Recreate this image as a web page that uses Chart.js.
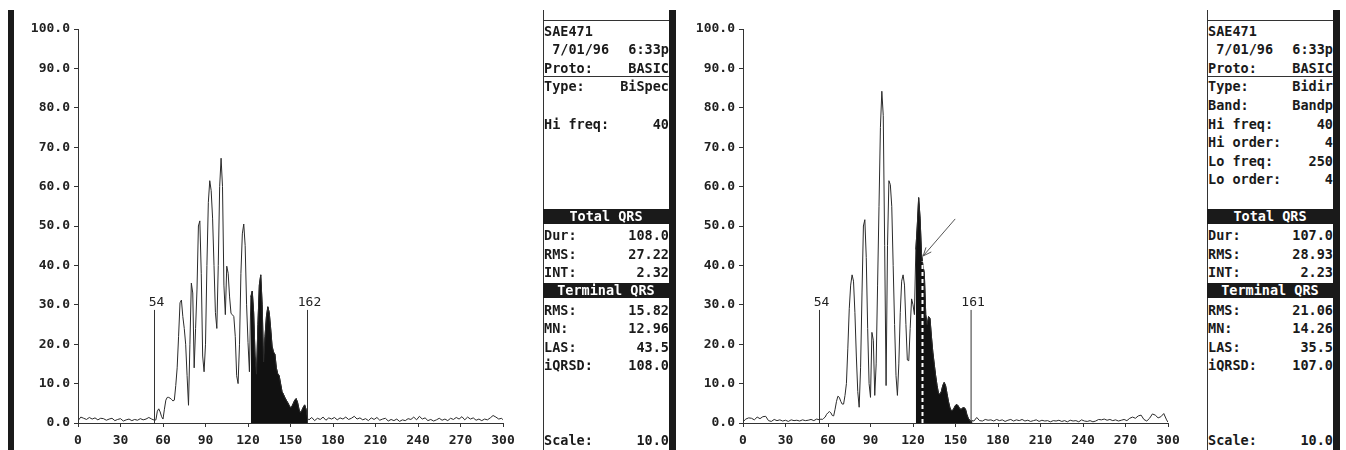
<!DOCTYPE html>
<html>
<head>
<meta charset="utf-8">
<script src="https://cdn.jsdelivr.net/npm/chart.js@4/dist/chart.umd.min.js"></script>
<style>
  html, body { margin: 0; padding: 0; background: #fff; }
  #wrap { position: relative; width: 1346px; height: 450px; overflow: hidden; background: #fff; }
  canvas { position: absolute; top: 0; }
  .bar { position: absolute; background: #1a1a1a; }
  .vline { position: absolute; width: 1px; background: #333; }
  .hline { position: absolute; height: 1px; background: #333; }
  .row { position: absolute; height: 18px; line-height: 18px; display: flex; justify-content: space-between;
         font-family: "DejaVu Sans Mono", monospace; font-weight: bold; font-size: 13.5px; color: #1a1a1a; white-space: pre; }
  .hdr { position: absolute; height: 15px; line-height: 15px; background: #1a1a1a; color: #fff; text-align: center;
         font-family: "DejaVu Sans Mono", monospace; font-weight: bold; font-size: 13.5px; white-space: pre; }
</style>
</head>
<body>
<div id="wrap">
  <canvas id="leftChart" width="540" height="450" style="left:0px"></canvas>
  <canvas id="rightChart" width="540" height="450" style="left:665px"></canvas>
</div>
<script>
// Left recording (BiSpec filter) - time in ms, amplitude in uV
const leftTime = [0,2,4,6,8,10,12,14,16,18,20,22,24,26,28,30,32,34,36,38,40,42,44,46,48,50,52,54,
  55,56,57,58,59,60,61,62,63,64,65,66,67,68,69,70,71,72,73,74,75,76,77,78,79,80,81,82,83,84,85,86,87,88,89,90,
  91,92,93,94,95,96,97,98,99,100,101,102,103,104,105,106,107,108,109,110,111,112,113,114,115,116,117,118,119,120,121,
  122,123,124,125,126,127,128,129,130,131,132,133,134,135,136,137,138,139,140,141,142,143,144,145,146,147,148,149,150,
  151,152,153,154,155,156,157,158,159,160,161,162,
  163,165,167,169,171,173,175,177,179,181,183,185,187,189,191,193,195,197,199,201,203,205,207,209,211,213,215,217,219,
  221,223,225,227,229,231,233,235,237,239,241,243,245,247,249,251,253,255,257,259,261,263,265,267,269,271,273,275,277,
  279,281,283,285,287,289,291,293,295,297,299,300];
const leftValue = [0.6,1.5,1.2,0.9,1.4,1.0,1.3,0.8,1.2,1.1,0.7,1.0,1.2,0.6,0.9,1.1,0.5,0.8,1.0,0.6,0.9,0.7,1.1,0.8,1.0,1.4,1.0,0.7,
  0.8,3.0,3.6,2.8,1.6,1.0,3.5,5.8,6.5,6.5,6.3,6.0,5.6,5.8,9.5,14,22,30.5,31.2,27,24,20,12,4.5,20,35.5,33,14,24,34,50,51.3,38,17,13,20,
  40,56,61.5,59,52,40,28,24,40,60,67.2,60,35,27.5,39.8,38,32,27.8,27.5,27,22,12,10,20,38,48,50.5,45,30,20.5,13,
  32,33.5,28,17,12.4,25,35,37.6,30,15.5,22,27,29.5,28,24,19.5,18,17.5,14,12.5,12,10,8,7.3,6.5,5.8,5.2,4.5,3.9,
  4.2,5.0,5.8,6.2,5.2,3.5,2.6,3.2,4.0,4.6,3.5,1.2,
  0.8,1.4,0.6,1.2,0.9,1.5,0.7,1.3,1.0,1.4,0.8,1.3,1.0,1.5,0.9,1.2,1.7,1.0,1.3,0.8,1.1,0.6,1.3,0.9,1.4,0.7,1.0,1.2,0.5,
  0.9,0.6,1.0,0.4,0.8,0.6,1.1,0.9,1.5,0.8,1.7,1.0,1.3,0.6,0.9,0.5,0.8,1.2,0.7,1.0,0.6,1.2,0.9,1.4,1.0,1.6,0.8,1.5,1.0,
  1.3,0.7,1.0,0.6,1.0,0.8,1.3,1.9,1.5,1.0,1.2,0.8];
const leftTerminal = [122, 162];   // shaded terminal QRS, ms
const leftMarkers = [54, 162];     // QRS onset / offset

// Right recording (Bidir bandpass filter)
const rightTime = [0,2,4,6,8,10,12,14,16,18,20,22,24,26,28,30,32,34,36,38,40,42,44,46,48,50,52,54,
  55,56,57,58,59,60,61,62,63,64,65,66,67,68,69,70,71,72,73,74,75,76,77,78,79,80,81,82,83,84,85,86,87,88,89,90,
  91,92,93,94,95,96,97,98,99,100,101,102,103,104,105,106,107,108,109,110,111,112,113,114,115,116,117,118,119,120,121,
  122,123,124,125,126,127,128,129,130,131,132,133,134,135,136,137,138,139,140,141,142,143,144,145,146,147,148,149,150,
  151,152,153,154,155,156,157,158,159,160,161,162,
  163,165,167,169,171,173,175,177,179,181,183,185,187,189,191,193,195,197,199,201,203,205,207,209,211,213,215,217,219,
  221,223,225,227,229,231,233,235,237,239,241,243,245,247,249,251,253,255,257,259,261,263,265,267,269,271,273,275,277,
  279,281,283,285,287,289,291,293,295,297,299,300];
const rightValue = [0.3,1.0,1.3,1.2,0.8,1.5,1.1,1.6,1.7,0.6,0.4,0.9,0.6,0.8,0.5,0.7,0.4,0.8,0.6,0.7,0.5,0.8,0.6,0.7,0.9,0.6,1.0,0.8,
  1.0,0.9,1.2,1.5,2.2,2.6,2.9,2.6,1.9,1.8,3.5,5.5,6.8,6.5,5.5,4.8,4.8,7,10,19,29,35,37.6,36,28,17,8,4,14,33,50,51.6,42,24,10,6.5,
  23,21,7,15,35,55,75,84.2,78,45,9.5,45,61.5,60.5,55,40,25,12,7,15,28,36,37.6,35,25,16,15.8,24,31.5,30,27.5,
  44,50,57.2,52,43,40,38,27.5,25,27,26.5,22,18,14.9,12,9.5,7.5,7.3,8,9.5,10.3,9.5,7.5,5.5,4,3.1,3.2,3.8,4.5,
  4.7,4.3,3.6,3.5,3.8,3.9,3.6,2.2,1.2,0.7,0.4,0.6,
  0.5,1.4,0.6,0.5,0.9,0.7,0.8,0.5,0.9,0.6,0.8,0.4,0.7,0.9,0.5,0.8,0.6,0.9,0.5,0.7,0.4,0.6,0.8,0.4,0.7,0.5,0.6,0.3,0.6,
  0.5,0.7,0.4,0.6,0.3,0.7,0.5,0.6,0.3,0.8,0.5,0.4,0.6,0.3,0.5,0.9,0.8,1.0,0.7,0.9,0.6,0.8,0.5,0.7,0.9,0.6,1.2,1.5,1.2,
  1.8,2.0,0.9,0.5,1.2,2.3,2.0,1.3,1.6,2.4,0.8,0.2];
const rightTerminal = [122, 162];
const rightMarkers = [54, 161];
const rightCursor = { x: 126.7, top: 41 };                // white dashed cursor line
const rightArrow = { from: [149.8, 51.8], to: [127.2, 42.4] };

const markerHeight = 28.7;
const xTicks = [0, 30, 60, 90, 120, 150, 180, 210, 240, 270, 300];

// Info panels
const leftInfo = [
  [0, 'SAE471', ''], [1, ' 7/01/96', '6:33p'], [2, 'Proto:', 'BASIC'],
  [3, 'Type:', 'BiSpec'], [5, 'Hi freq:', '40'],
  [10, 'Total QRS'], [11, 'Dur:', '108.0'], [12, 'RMS:', '27.22'], [13, 'INT:', '2.32'],
  [14, 'Terminal QRS'], [15, 'RMS:', '15.82'], [16, 'MN:', '12.96'], [17, 'LAS:', '43.5'], [18, 'iQRSD:', '108.0'],
  [22, 'Scale:', '10.0']
];
const rightInfo = [
  [0, 'SAE471', ''], [1, ' 7/01/96', '6:33p'], [2, 'Proto:', 'BASIC'],
  [3, 'Type:', 'Bidir'], [4, 'Band:', 'Bandp'], [5, 'Hi freq:', '40'], [6, 'Hi order:', '4'],
  [7, 'Lo freq:', '250'], [8, 'Lo order:', '4'],
  [10, 'Total QRS'], [11, 'Dur:', '107.0'], [12, 'RMS:', '28.93'], [13, 'INT:', '2.23'],
  [14, 'Terminal QRS'], [15, 'RMS:', '21.06'], [16, 'MN:', '14.26'], [17, 'LAS:', '35.5'], [18, 'iQRSD:', '107.0'],
  [22, 'Scale:', '10.0']
];

const wrap = document.getElementById('wrap');
function addDiv(cls, style, text) {
  const d = document.createElement('div');
  d.className = cls;
  Object.assign(d.style, style);
  if (text !== undefined) d.textContent = text;
  wrap.appendChild(d);
  return d;
}

function buildPanel(left, rows) {
  const w = 126;
  addDiv('vline', { left: left + 'px', top: '10px', height: '440px' });
  addDiv('bar', { left: (left + w) + 'px', top: '10px', width: '7px', height: '440px' });
  addDiv('hline', { left: left + 'px', top: '20px', width: w + 'px' });
  addDiv('hline', { left: left + 'px', top: '76px', width: w + 'px' });
  rows.forEach(r => {
    const cy = 30.5 + 18.6 * r[0];
    if (r.length === 2) {
      addDiv('hdr', { left: left + 'px', top: (cy - 8) + 'px', width: w + 'px' }, r[1]);
    } else {
      const d = addDiv('row', { left: (left + 1) + 'px', top: (cy - 9) + 'px', width: (w - 1) + 'px' });
      const a = document.createElement('span'); a.textContent = r[1];
      const b = document.createElement('span'); b.textContent = r[2];
      d.appendChild(a); d.appendChild(b);
    }
  });
}

addDiv('bar', { left: '8px', top: '10px', width: '6px', height: '440px' });
buildPanel(543, leftInfo);
buildPanel(1207, rightInfo);

// marker labels + arrow
const annotations = {
  id: 'annotations',
  afterDatasetsDraw(chart, args, opts) {
    const { ctx, scales: { x, y } } = chart;
    ctx.save();
    ctx.fillStyle = '#222';
    ctx.font = '13px "DejaVu Sans Mono"';
    ctx.textAlign = 'center';
    ctx.textBaseline = 'bottom';
    opts.markers.forEach(m => {
      ctx.fillText(String(m), x.getPixelForValue(m) + 2, y.getPixelForValue(markerHeight) - 1);
    });
    if (opts.arrow) {
      const x1 = x.getPixelForValue(opts.arrow.from[0]), y1 = y.getPixelForValue(opts.arrow.from[1]);
      const x2 = x.getPixelForValue(opts.arrow.to[0]), y2 = y.getPixelForValue(opts.arrow.to[1]);
      ctx.strokeStyle = '#555';
      ctx.lineWidth = 1;
      ctx.beginPath();
      ctx.moveTo(x1, y1); ctx.lineTo(x2, y2);
      const ang = Math.atan2(y2 - y1, x2 - x1);
      [0.4, -0.4].forEach(d => {
        ctx.moveTo(x2, y2);
        ctx.lineTo(x2 - 9 * Math.cos(ang + d), y2 - 9 * Math.sin(ang + d));
      });
      ctx.stroke();
    }
    ctx.restore();
  }
};

function makeChart(id, time, value, terminal, markers, cursor, arrow) {
  const curve = time.map((t, i) => ({ x: t, y: value[i] }));
  const shaded = curve.filter(p => p.x >= terminal[0] && p.x <= terminal[1]);
  const datasets = [];
  if (cursor) {
    datasets.push({ data: [{ x: cursor.x, y: 0 }, { x: cursor.x, y: cursor.top }],
      borderColor: '#fff', borderWidth: 2, borderDash: [4, 3], pointRadius: 0, fill: false });
  }
  markers.forEach(m => {
    datasets.push({ data: [{ x: m, y: 0 }, { x: m, y: markerHeight }],
      borderColor: '#333', borderWidth: 1, pointRadius: 0, fill: false });
  });
  datasets.push({ data: curve, borderColor: '#2a2a2a', borderWidth: 1, pointRadius: 0, fill: false, tension: 0 });
  datasets.push({ data: shaded, borderColor: '#111', backgroundColor: '#111', borderWidth: 1,
    pointRadius: 0, fill: 'origin', tension: 0 });

  return new Chart(document.getElementById(id).getContext('2d'), {
    type: 'line',
    data: { datasets },
    options: {
      responsive: false,
      animation: false,
      events: [],
      layout: { padding: { top: 29, right: 37, bottom: 0, left: 0 } },
      plugins: { legend: { display: false }, tooltip: { enabled: false }, annotations: { markers, arrow } },
      scales: {
        x: {
          type: 'linear', min: 0, max: 300,
          afterFit: s => { s.height = 27; },
          afterBuildTicks: s => { s.ticks = xTicks.map(v => ({ value: v })); },
          border: { color: '#333', width: 1 },
          grid: { drawOnChartArea: false, drawTicks: true, tickLength: 4, color: '#333' },
          ticks: { color: '#222', padding: 6, maxRotation: 0, autoSkip: false,
                   font: { family: 'DejaVu Sans Mono', size: 13, weight: 'bold' } }
        },
        y: {
          min: 0, max: 100,
          afterFit: s => { s.width = 78; },
          border: { color: '#333', width: 1 },
          grid: { drawOnChartArea: false, drawTicks: true, tickLength: 4, color: '#333' },
          ticks: { stepSize: 10, color: '#222', padding: 4, callback: v => v.toFixed(1),
                   font: { family: 'DejaVu Sans Mono', size: 13, weight: 'bold' } }
        }
      }
    },
    plugins: [annotations]
  });
}

makeChart('leftChart', leftTime, leftValue, leftTerminal, leftMarkers, null, null);
makeChart('rightChart', rightTime, rightValue, rightTerminal, rightMarkers, rightCursor, rightArrow);
</script>
</body>
</html>
